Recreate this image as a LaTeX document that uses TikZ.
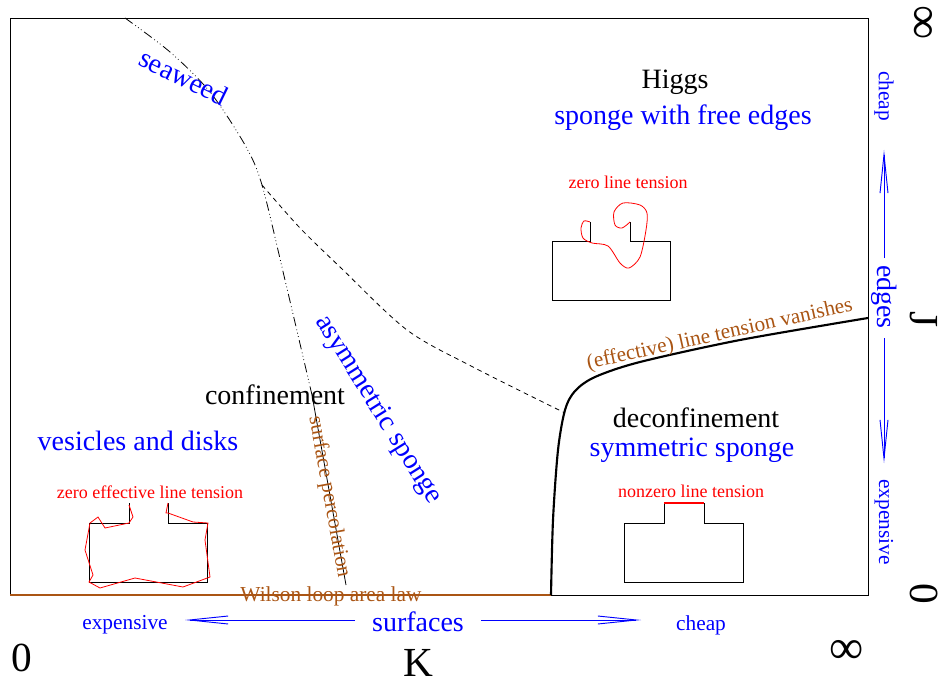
\documentclass[tikz,border=0pt]{standalone}
\usepackage{fontspec}
\setmainfont{Liberation Serif}
\usetikzlibrary{arrows.meta}
\definecolor{brn}{RGB}{170,85,20}
\begin{document}
\begin{tikzpicture}[x=0.75pt,y=-0.75pt,
 big/.style={font=\fontsize{21}{24}\selectfont, inner sep=0pt},
 med/.style={font=\fontsize{16}{19}\selectfont, inner sep=0pt},
 sml/.style={font=\fontsize{13.5}{16}\selectfont, inner sep=0pt, text=red},
 hugetxt/.style={font=\fontsize{31}{36}\selectfont, inner sep=0pt},
 inftxt/.style={font=\fontsize{36}{40}\selectfont, inner sep=0pt},
 axarrow/.style={blue, line width=0.7pt, -{Straight Barb[length=29pt,width=6pt]}},
 thinline/.style={line width=0.6pt},
 dashdotline/.style={line width=0.6pt, dash pattern=on 7pt off 2.5pt on 0.6pt off 2pt on 0.6pt off 2pt on 0.6pt off 2.5pt},
 redline/.style={red, line width=0.6pt},
 ]
\useasboundingbox (0,0) rectangle (942,681);
% frame
\draw[thinline] (10,18) rectangle (868,595);
\draw[brn, line width=1.6pt] (10,595) -- (551,595);
% seaweed / percolation line
\draw[dashdotline] plot[smooth] coordinates {(125,18) (170,52) (210,92) (245,145) (262,185) (285,280) (312,395)};
\draw[thinline] (312,395) -- (346,585);
% dashed line
\draw[thinline, dash pattern=on 3.5pt off 3pt] plot[smooth] coordinates {(262,185) (300,228) (340,267) (407,330) (473,367) (565,413)};
% thick transition line
\draw[line width=1.6pt] plot[smooth] coordinates {(551,595) (553,520) (558,450) (565,410) (575,391) (595,377) (640,362) (740,340) (868,318)};
% region labels
\node[big] (higgs) at (675,82) {Higgs};
\node[big, text=blue] (sfe) at (683,118) {sponge with free edges};
\node[sml] (zlt) at (628,182) {zero line tension};
\node[big] (conf) at (275,395) {confinement};
\node[big, text=blue] (ves) at (138,441) {vesicles and disks};
\node[big] (deconf) at (696,418) {deconfinement};
\node[big, text=blue] (sym) at (692,450) {symmetric sponge};
\node[sml] (zelt) at (150,492) {zero effective line tension};
\node[sml] (nlt) at (691,491) {nonzero line tension};
\node[big, text=blue, rotate=-26] (sea) at (184,77) {seaweed};
\node[big, text=blue, rotate=-58] (asym) at (378,410) {asymmetric sponge};
\node[med, text=brn, rotate=-79.7] (perc) at (329,497) {surface percolation};
\node[med, text=brn] (wil) at (331,596) {Wilson loop area law};
\node[med, text=brn, rotate=12.5, anchor=base] (eff) at (721,340) {(effective) line tension vanishes};
% Higgs sketch
\draw[thinline] (590,222) -- (590,241) -- (552,241) -- (552,300) -- (670,300) -- (670,241) -- (630,241) -- (630,222);
\draw[redline] plot[smooth] coordinates {(590,222) (584,221) (581,228) (583,238) (592,243) (608,246) (620,263) (629,268) (640,257) (646,230) (647,213) (640,205) (623,203) (614,212) (615,225) (622,228) (630,222)};
% vesicle sketch
\draw[thinline] (129,503) -- (129,523) -- (89,523) -- (89,582) -- (207,582) -- (207,523) -- (168,523) -- (168,503);
\draw[redline] (129,505) -- (133,517) -- (129,523) -- (105,528) -- (98,517) -- (90,523) -- (85,550) -- (93,575) -- (89,582) -- (100,588) -- (135,578) -- (183,587) -- (210,577) -- (205,540) -- (208,523) -- (193,522) -- (168,513) -- (166,513) -- (168,503);
% deconfinement sketch
\draw[thinline] (664,503) -- (664,523) -- (624,523) -- (624,582) -- (743,582) -- (743,523) -- (704,523) -- (704,503);
\draw[red, line width=1.6pt] (664,503) -- (704,503);
% K axis
\node[med, text=blue] (kexp) at (125,625) {expensive};
\node[big, text=blue] (surf) at (418,622) {surfaces};
\node[med, text=blue] (kch) at (701,625) {cheap};
\coordinate (kl1) at (355,620);
\coordinate (kl2) at (185,620);
\coordinate (kr1) at (481,620);
\coordinate (kr2) at (641,620);
\draw[axarrow] (kl1) -- (kl2);
\draw[axarrow] (kr1) -- (kr2);
% J axis
\node[med, text=blue, rotate=-90] (jch) at (884,96) {cheap};
\node[big, text=blue, rotate=-90] (edg) at (884,297) {edges};
\node[med, text=blue, rotate=-90] (jexp) at (884,522) {expensive};
\coordinate (ju1) at (884,258);
\coordinate (ju2) at (884,150);
\coordinate (jd1) at (884,338);
\coordinate (jd2) at (884,463);
\draw[axarrow] (ju1) -- (ju2);
\draw[axarrow] (jd1) -- (jd2);
% axis values
\node[hugetxt] (k0) at (22,658) {0};
\node[hugetxt] (kk) at (418,663) {K};
\node[inftxt] (kinf) at (847,652) {∞};
\node[inftxt, rotate=-90] (jinf) at (921,23) {∞};
\node[hugetxt, rotate=-90] (jj) at (924,320) {J};
\node[hugetxt, rotate=-90] (j0) at (924,594) {0};
\end{tikzpicture}
\end{document}
